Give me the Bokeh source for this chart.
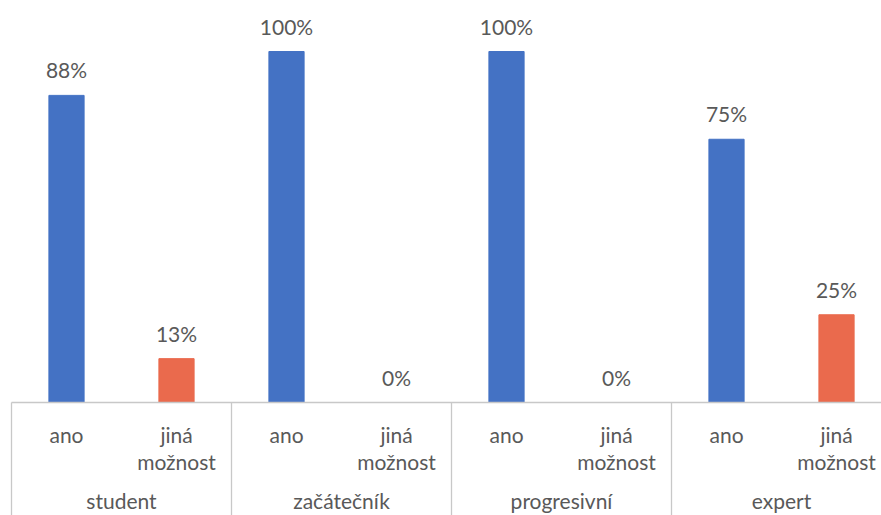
import math
from bokeh.plotting import figure
from bokeh.models import Range1d, ColumnDataSource
from bokeh.core.properties import value
from bokeh.embed import file_html
from bokeh.resources import INLINE

# survey answers per respondent level (percent)
groups = ["student", "začátečník", "progresivní", "expert"]
answers = ["ano", "jiná\nmožnost"]
ano_pct = [87.5, 100, 100, 75]
jina_pct = [12.5, 0, 0, 25]

BLUE = "#4472C4"
ORANGE = "#EA6A4D"
TEXT = "#595959"
AXIS = "#C8C8C8"
FONT = value("Lato")

# each answer occupies one unit on x; each group spans two units
xs, vals, colors, labels, cats = [], [], [], [], []
for gi, g in enumerate(groups):
    for ai, (a, v, c) in enumerate(zip(answers, (ano_pct[gi], jina_pct[gi]), (BLUE, ORANGE))):
        xs.append(gi * 2 + ai + 0.5)
        vals.append(v)
        colors.append(c)
        labels.append(f"{math.floor(v + 0.5)}%")
        cats.append(a)

src = ColumnDataSource(dict(x=xs, top=vals, color=colors, label=labels, cat=cats))

p = figure(width=881, height=515, output_backend="svg", toolbar_location=None,
           x_range=Range1d(-0.1, 7.909), y_range=Range1d(-32.19, 114.53),
           min_border=0, min_border_left=0, min_border_right=0,
           min_border_top=0, min_border_bottom=0)
p.axis.visible = False
p.grid.visible = False
p.outline_line_color = None
p.background_fill_color = "white"
p.border_fill_color = "white"

p.vbar(x="x", top="top", bottom=0, width=0.32, color="color", source=src)

p.text(x="x", y="top", text="label", source=src, text_align="center",
       text_baseline="bottom", y_offset=-13, text_font=FONT,
       text_font_size="21px", text_color=TEXT)

# category axis drawn in the lower part of the frame
n = len(groups) * 2
p.segment(x0=[0], y0=[0], x1=[n + 1], y1=[0], line_color=AXIS, line_width=1.3)
bounds = list(range(0, n + 1, 2))
p.segment(x0=bounds, y0=[0] * len(bounds), x1=bounds, y1=[-40] * len(bounds),
          line_color=AXIS, line_width=1.3)

p.text(x="x", y=-5.5, text="cat", source=src, text_align="center",
       text_baseline="top", text_font=FONT, text_font_size="21px",
       text_color=TEXT, text_line_height=1.08)

gx = [gi * 2 + 1 for gi in range(len(groups))]
p.text(x=gx, y=[-28.0] * len(gx), text=groups, text_align="center",
       text_baseline="middle", text_font=FONT, text_font_size="21px",
       text_color=TEXT)

open("out.html", "w").write(file_html(p, INLINE))
